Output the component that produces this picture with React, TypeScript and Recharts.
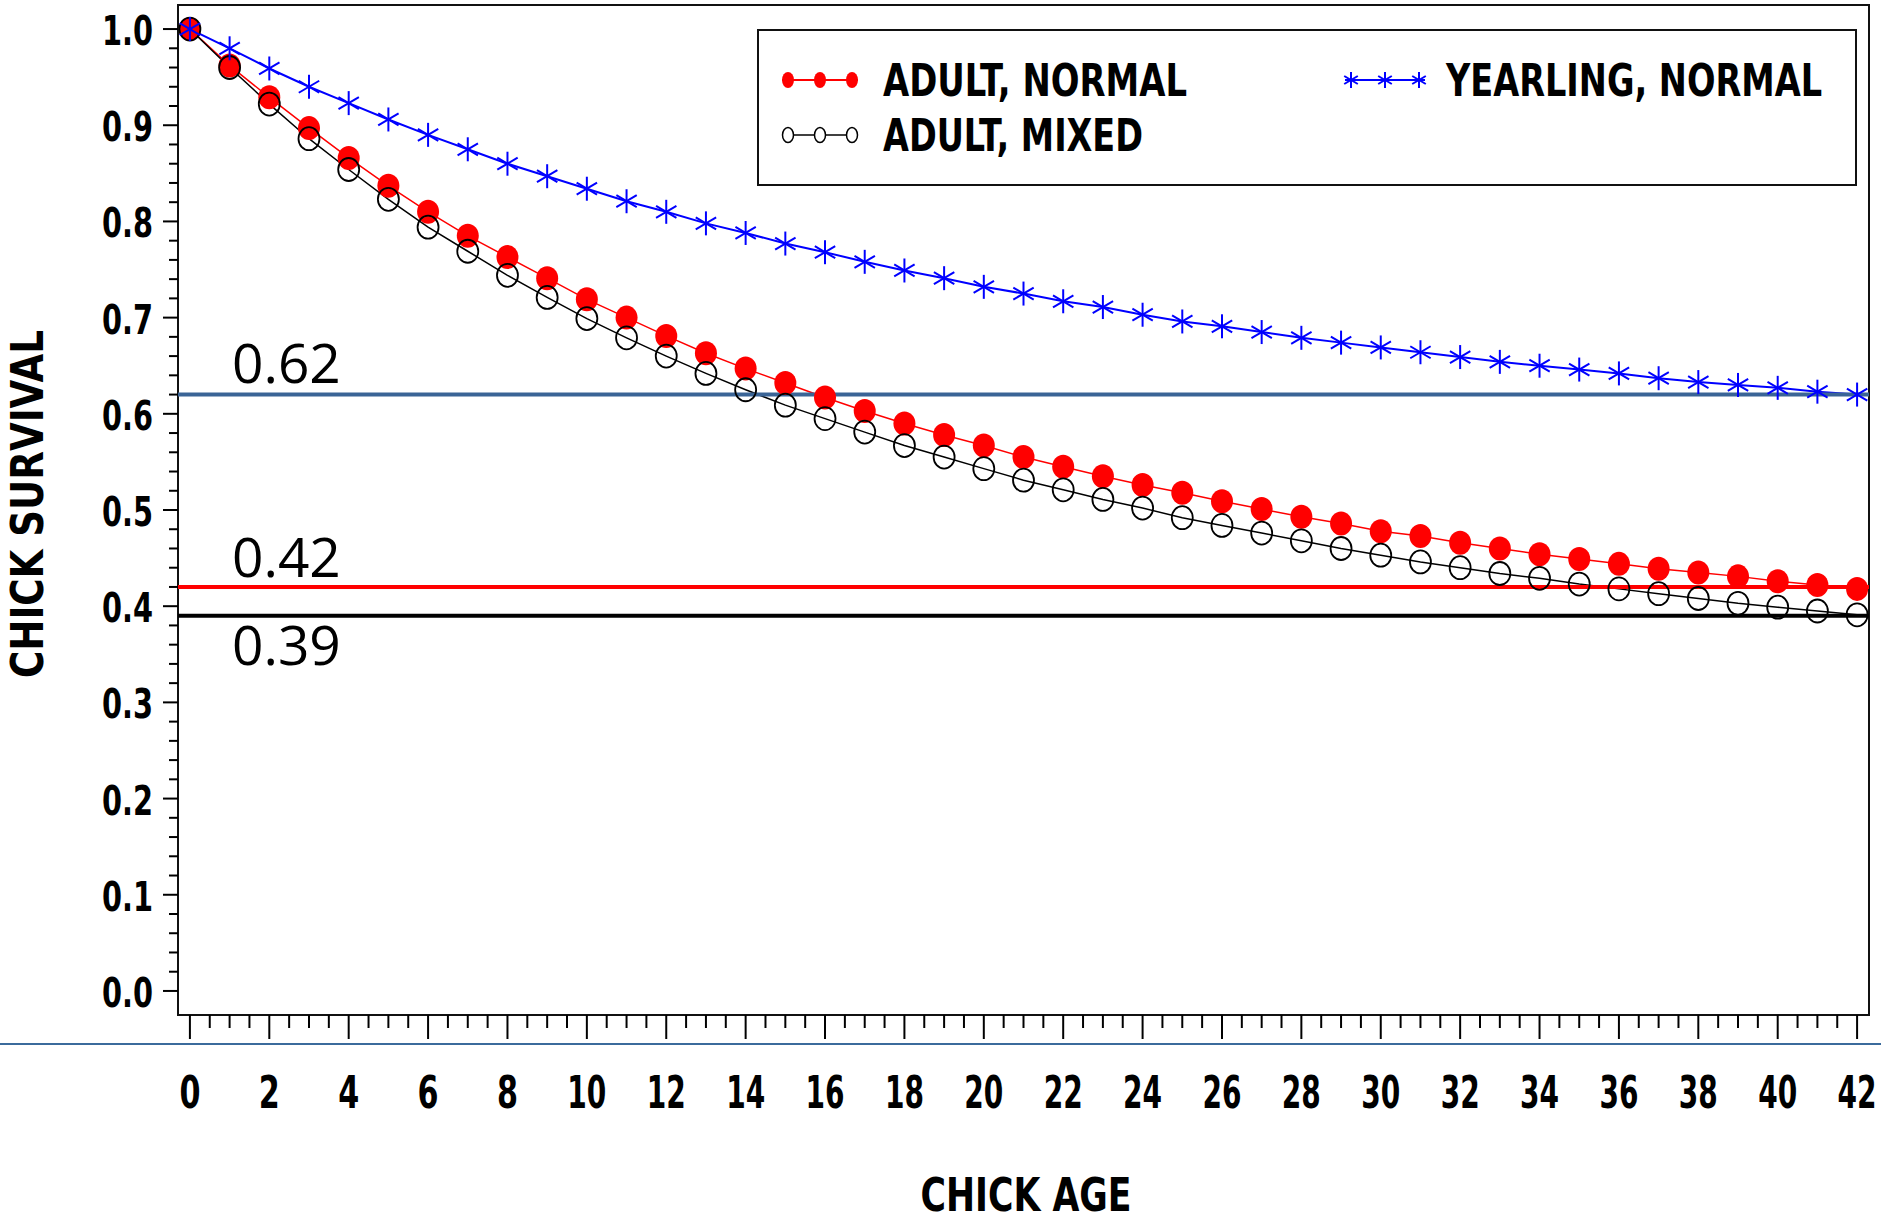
import { LineChart, Line, XAxis, YAxis, ReferenceLine, ReferenceArea, Legend } from "recharts";

// chick age (days)
const ages = [
  0, 1, 2, 3, 4, 5, 6, 7, 8, 9, 10, 11, 12, 13, 14, 15, 16, 17, 18, 19, 20, 21,
  22, 23, 24, 25, 26, 27, 28, 29, 30, 31, 32, 33, 34, 35, 36, 37, 38, 39, 40, 41, 42,
];

const adultNormal = [
  1.0, 0.962, 0.929, 0.897, 0.866, 0.837, 0.81, 0.785, 0.763, 0.741, 0.719, 0.7, 0.681,
  0.663, 0.647, 0.632, 0.617, 0.603, 0.59, 0.578, 0.567, 0.555, 0.545, 0.535, 0.526,
  0.518, 0.509, 0.501, 0.493, 0.486, 0.478, 0.473, 0.466, 0.46, 0.454, 0.449, 0.444,
  0.439, 0.435, 0.431, 0.426, 0.422, 0.418,
];

const adultMixed = [
  1.0, 0.96, 0.922, 0.886, 0.854, 0.823, 0.794, 0.769, 0.744, 0.721, 0.699, 0.679, 0.66,
  0.642, 0.625, 0.609, 0.595, 0.581, 0.567, 0.555, 0.543, 0.531, 0.521, 0.511, 0.502,
  0.492, 0.484, 0.476, 0.468, 0.46, 0.453, 0.446, 0.44, 0.434, 0.429, 0.423, 0.418,
  0.413, 0.408, 0.403, 0.399, 0.395, 0.391,
];

const yearlingNormal = [
  1.0, 0.98, 0.959, 0.94, 0.923, 0.906, 0.89, 0.875, 0.86, 0.847, 0.834, 0.821, 0.81,
  0.798, 0.788, 0.777, 0.768, 0.758, 0.749, 0.741, 0.732, 0.725, 0.717, 0.711, 0.703,
  0.696, 0.691, 0.685, 0.679, 0.674, 0.669, 0.664, 0.659, 0.654, 0.65, 0.646, 0.642,
  0.637, 0.633, 0.63, 0.627, 0.623, 0.62,
];

// final survival reference lines
const refValues = [0.62, 0.42, 0.39];
const refLabels = ["0.62", "0.42", "0.39"];
const refColors = ["#3a6496", "#ff0000", "#000000"];
const refLabelDy = [-12, -10, 49];

const xTickLabels = [0, 2, 4, 6, 8, 10, 12, 14, 16, 18, 20, 22, 24, 26, 28, 30, 32, 34, 36, 38, 40, 42];
const yTickLabels = ["0.0", "0.1", "0.2", "0.3", "0.4", "0.5", "0.6", "0.7", "0.8", "0.9", "1.0"];

const W = 1881;
const H = 1217;
// no narrow font installed, so widths are forced with textLength
const FONT = '"Liberation Sans Narrow", "DejaVu Sans Condensed", "DejaVu Sans", sans-serif';
const NOTE_FONT = '"Open Sans", "Noto Sans", sans-serif';

const data = ages.map((age, i) => ({
  age,
  adultNormal: adultNormal[i],
  adultMixed: adultMixed[i],
  yearlingNormal: yearlingNormal[i],
}));

// minor ticks: every half day on x, every 0.02 on y
const xAllTicks = Array.from({ length: 85 }, (_, i) => i / 2);
const yAllTicks = Array.from({ length: 51 }, (_, i) => i / 50);

function NarrowText({ width, children, ...rest }: any) {
  return (
    <text fontFamily={FONT} fontWeight={700} fill="#000" textLength={width} lengthAdjust="spacingAndGlyphs" {...rest}>
      {children}
    </text>
  );
}

function XTick(props: any) {
  const { x, y, payload } = props;
  const v = payload.value;
  const major = xTickLabels.includes(v);
  return (
    <g>
      <line x1={x} x2={x} y1={y} y2={y + (major ? 24 : 13)} stroke="#000" strokeWidth={2} />
      {major && (
        <NarrowText x={x} y={y + 93} textAnchor="middle" fontSize={44} width={v < 10 ? 21 : 39}>
          {v}
        </NarrowText>
      )}
    </g>
  );
}

function YTick(props: any) {
  const { x, y, payload } = props;
  const k = Math.round(payload.value * 50);
  const major = k % 5 === 0;
  return (
    <g>
      <line x1={x - (major ? 15 : 9)} x2={x} y1={y} y2={y} stroke="#000" strokeWidth={2} />
      {major && (
        <NarrowText x={x - 25} y={y + 16} textAnchor="end" fontSize={41} width={51}>
          {yTickLabels[k / 5]}
        </NarrowText>
      )}
    </g>
  );
}

const redDot = (p: any) => (
  <ellipse key={`r${p.index}`} cx={p.cx} cy={p.cy} rx={11} ry={12} fill="#ff0000" />
);
const blackDot = (p: any) => (
  <ellipse key={`b${p.index}`} cx={p.cx} cy={p.cy} rx={10.5} ry={11.5} fill="none" stroke="#000" strokeWidth={1.8} />
);
function star(cx: number, cy: number, s: number, key?: string) {
  return (
    <g key={key} stroke="#0000ff" strokeWidth={2}>
      <line x1={cx} x2={cx} y1={cy - s} y2={cy + s} />
      <line x1={cx - s * 0.85} y1={cy - s * 0.5} x2={cx + s * 0.85} y2={cy + s * 0.5} />
      <line x1={cx - s * 0.85} y1={cy + s * 0.5} x2={cx + s * 0.85} y2={cy - s * 0.5} />
    </g>
  );
}
const blueDot = (p: any) => star(p.cx, p.cy, 12, `s${p.index}`);

function LegendBox() {
  const xs = [31, 63, 95];
  const bx = [594, 628, 662];
  return (
    <svg width={1100} height={157}>
      <rect x={1} y={1} width={1098} height={155} fill="#fff" stroke="#111" strokeWidth={2} />
      <line x1={25} x2={101} y1={51} y2={51} stroke="#ff0000" strokeWidth={2} />
      {xs.map((x) => (
        <ellipse key={`lr${x}`} cx={x} cy={51} rx={6} ry={8} fill="#ff0000" />
      ))}
      <NarrowText x={126} y={67} fontSize={44} width={304}>ADULT, NORMAL</NarrowText>
      <line x1={25} x2={101} y1={106} y2={106} stroke="#000" strokeWidth={1.5} />
      {xs.map((x) => (
        <ellipse key={`lb${x}`} cx={x} cy={106} rx={5.5} ry={7.5} fill="#fff" stroke="#000" strokeWidth={1.5} />
      ))}
      <NarrowText x={126} y={122} fontSize={44} width={260}>ADULT, MIXED</NarrowText>
      <line x1={588} x2={668} y1={51} y2={51} stroke="#0000ff" strokeWidth={2} />
      {bx.map((x) => star(x, 51, 8, `lx${x}`))}
      <NarrowText x={689} y={67} fontSize={44} width={376}>YEARLING, NORMAL</NarrowText>
    </svg>
  );
}

export default function App() {
  return (
    <div style={{ position: "absolute", left: 0, top: 0, width: W, height: H, background: "#fff" }}>
      <LineChart width={W} height={H} data={data} margin={{ top: 5, right: 12, bottom: 0, left: 0 }}>
        <XAxis
          dataKey="age"
          type="number"
          domain={[-0.3, 42.3]}
          allowDataOverflow
          ticks={xAllTicks}
          interval={0}
          tick={<XTick />}
          tickLine={false}
          tickSize={0}
          tickMargin={0}
          axisLine={false}
          height={202}
          label={() => (
            <NarrowText x={1026} y={1211} textAnchor="middle" fontSize={46} width={211}>
              CHICK AGE
            </NarrowText>
          )}
        />
        <YAxis
          type="number"
          domain={[-0.025, 1.025]}
          allowDataOverflow
          ticks={yAllTicks}
          interval={0}
          tick={<YTick />}
          tickLine={false}
          tickSize={0}
          tickMargin={0}
          axisLine={false}
          width={178}
          label={() => (
            <NarrowText
              x={43}
              y={504}
              transform="rotate(-90 43 504)"
              textAnchor="middle"
              fontSize={44}
              width={348}
            >
              CHICK SURVIVAL
            </NarrowText>
          )}
        />
        <ReferenceArea x1={-0.3} x2={42.3} y1={-0.025} y2={1.025} fill="none" stroke="#111" strokeWidth={2} />
        <Line dataKey="adultNormal" stroke="#ff0000" strokeWidth={1.5} dot={redDot} activeDot={false} isAnimationActive={false} />
        <Line dataKey="adultMixed" stroke="#000" strokeWidth={1.5} dot={blackDot} activeDot={false} isAnimationActive={false} />
        <Line dataKey="yearlingNormal" stroke="#0000ff" strokeWidth={2} dot={blueDot} activeDot={false} isAnimationActive={false} />
        {refValues.map((v, i) => (
          <ReferenceLine
            key={refLabels[i]}
            y={v}
            stroke={refColors[i]}
            strokeWidth={4}
            label={(p: any) => (
              <text x={p.viewBox.x + 54} y={p.viewBox.y + refLabelDy[i]} fontFamily={NOTE_FONT} fontSize={55} fill="#000">
                {refLabels[i]}
              </text>
            )}
          />
        ))}
        <Legend
          layout="horizontal"
          verticalAlign="middle"
          align="center"
          content={() => <LegendBox />}
          wrapperStyle={{ position: "absolute", left: 757, top: 29, width: 1100, height: 157 }}
        />
      </LineChart>
      <div style={{ position: "absolute", left: 0, top: 1043, width: W, height: 2, background: "#3b6b9c" }} />
    </div>
  );
}
